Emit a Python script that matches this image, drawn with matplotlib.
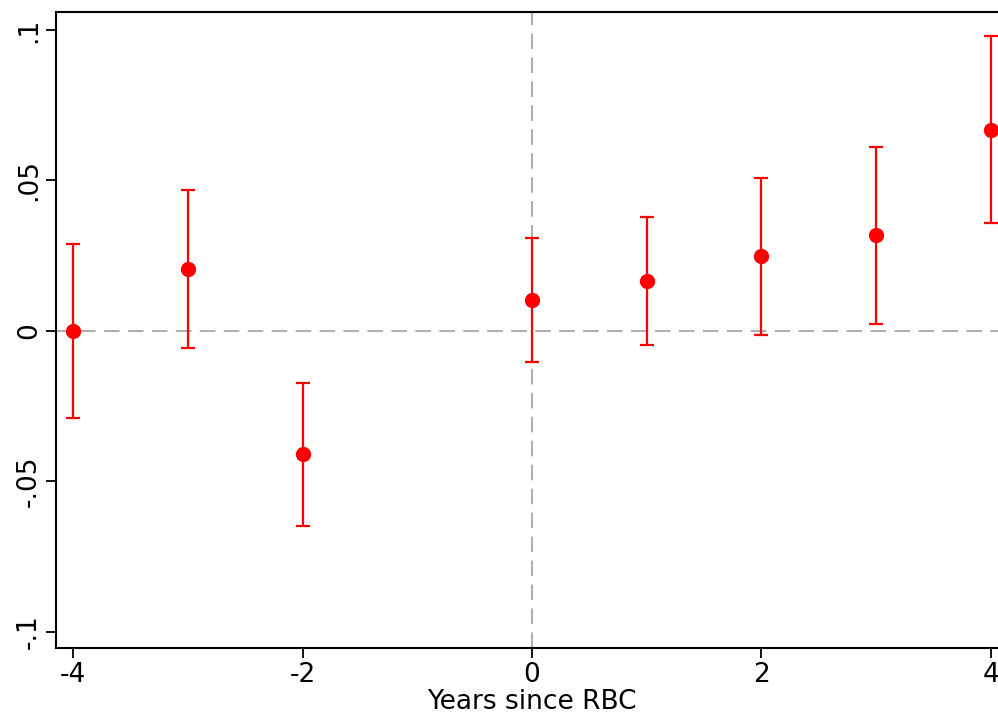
import numpy as np
import matplotlib
matplotlib.use("Agg")
import matplotlib.pyplot as plt

years = [-4, -3, -2, 0, 1, 2, 3, 4]
coef = [0.0, 0.0205, -0.041, 0.0103, 0.0166, 0.0249, 0.0318, 0.0669]
ci_low = [-0.0288, -0.0056, -0.065, -0.0103, -0.0046, -0.0013, 0.0023, 0.0358]
ci_high = [0.0288, 0.047, -0.0172, 0.0308, 0.0378, 0.0507, 0.061, 0.098]

xticks = [-4, -2, 0, 2, 4]
xticklabels = ["-4", "-2", "0", "2", "4"]
yticks = [-0.1, -0.05, 0, 0.05, 0.1]
yticklabels = ["-.1", "-.05", "0", ".05", ".1"]


def main():
    fig = plt.figure(figsize=(9.98, 7.2), dpi=100)
    W, H = 998, 720
    left, right, top, bottom = 56, 1008, 12, 648
    ax = fig.add_axes([left / W, 1 - bottom / H, (right - left) / W, (bottom - top) / H])

    coef_a = np.array(coef)
    yerr = [coef_a - np.array(ci_low), np.array(ci_high) - coef_a]

    ax.axhline(0, color="#b0b0b0", lw=1.5, ls=(0, (7.5, 4)), zorder=1)
    ax.axvline(0, color="#b0b0b0", lw=1.5, ls=(0, (7.5, 4)), zorder=1)

    ax.errorbar(years, coef, yerr=yerr, fmt="o", color="red", ecolor="red",
                ms=10, elinewidth=1.6, capsize=5, capthick=1.6, zorder=3,
                clip_on=False)

    ax.set_xlim(-4.15, 4.15)
    ax.set_ylim(-0.1054, 0.106)
    ax.set_xticks(xticks)
    ax.set_xticklabels(xticklabels)
    ax.set_yticks(yticks)
    ax.set_yticklabels(yticklabels, rotation=90, va="center")
    ax.tick_params(axis="both", labelsize=19, length=7, width=1.3,
                   direction="out", pad=3)
    ax.set_xlabel("Years since RBC", fontsize=19, labelpad=1)

    for s in ["left", "bottom", "top"]:
        ax.spines[s].set_linewidth(1.5)
    ax.spines["right"].set_visible(False)

    fig.savefig("out.png", dpi=100)


if __name__ == "__main__":
    main()
